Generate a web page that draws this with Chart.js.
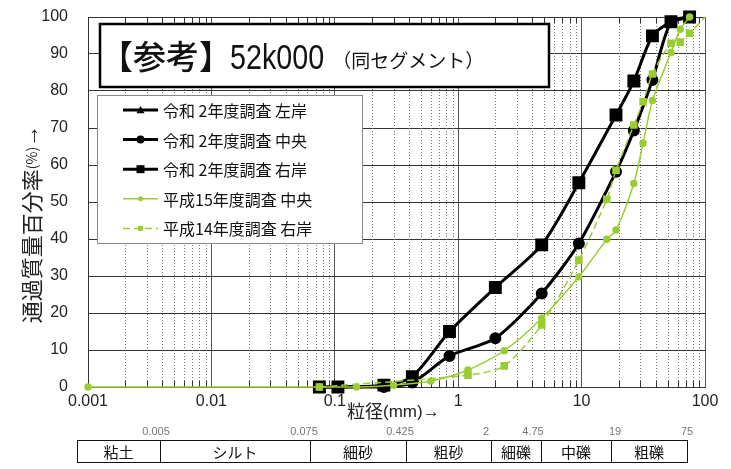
<!DOCTYPE html>
<html lang="ja">
<head>
<meta charset="utf-8">
<title>粒度分布 52k000</title>
<script src="https://cdn.jsdelivr.net/npm/chart.js@4.4.1/dist/chart.umd.min.js"></script>
<style>
  html, body { margin: 0; padding: 0; background: #fff; }
  #wrap { position: relative; width: 731px; height: 469px; }
</style>
</head>
<body>
<div id="wrap"><canvas id="gradation"></canvas></div>
<script>
// 令和2年度調査 ふるい目 (mm) と通過質量百分率 (%)
const sieveR2 = [0.075, 0.106, 0.25, 0.425, 0.85, 2, 4.75, 9.5, 19, 26.5, 37.5, 53, 75];
const passR2Left = [];   // 左岸: 凡例のみ
const passR2Center = [0, 0, 0, 1.2, 8.4, 13.2, 25.3, 38.8, 58.2, 69.3, 83.0, 98.7, 100];
const passR2Right = [0, 0, 0.5, 2.8, 15.0, 26.9, 38.4, 55.2, 73.5, 82.7, 94.9, 98.7, 100];

// 平成15年度調査 中央
const sieveH15 = [0.001, 0.075, 0.15, 0.3, 0.6, 1.2, 2.36, 4.75, 9.5, 16, 19, 26.5, 31.5, 37.5, 53, 63, 75];
const passH15Center = [0, 0, 0, 0.5, 1.6, 4.6, 9.8, 18.6, 29.8, 39.9, 42.4, 55.0, 65.9, 77.4, 90.4, 96.7, 100];

// 平成14年度調査 右岸
const sieveH14 = [0.075, 1.2, 2.36, 4.75, 9.5, 16, 19, 26.5, 31.5, 37.5, 53, 63, 75, 100];
const passH14Right = [0, 3.2, 5.7, 16.8, 34.3, 50.7, 58.6, 70.8, 77.1, 84.6, 92.9, 93.2, 95.6, 100];

const xTickLabels = ['0.001', '0.01', '0.1', '1', '10', '100'];
const soilClasses = ['粘土', 'シルト', '細砂', '粗砂', '細礫', '中礫', '粗礫'];
const soilBounds = ['0.005', '0.075', '0.425', '2', '4.75', '19', '75'];

const GREEN = '#9acd32';
const JP = "'Noto Sans CJK JP', sans-serif";
const NUM = "'Liberation Sans', 'Noto Sans CJK JP', sans-serif";

function toPoints(xs, ys) {
    return ys.map((y, i) => ({ x: xs[i], y: y }));
}

function isDecade(v) {
    const l = Math.log10(v);
    return Math.abs(l - Math.round(l)) < 1e-6;
}

// simple marker drawing for the hand-made legend
function drawMarker(ctx, style, x, y, r, color) {
    ctx.save();
    ctx.fillStyle = color;
    ctx.beginPath();
    if (style === 'circle') {
        ctx.arc(x, y, r, 0, Math.PI * 2);
    } else if (style === 'rect') {
        ctx.rect(x - r, y - r, r * 2, r * 2);
    } else if (style === 'triangle') {
        ctx.moveTo(x, y - r);
        ctx.lineTo(x + r, y + r * 0.8);
        ctx.lineTo(x - r, y + r * 0.8);
        ctx.closePath();
    }
    ctx.fill();
    ctx.restore();
}

const decorPlugin = {
    id: 'decor',
    beforeDatasetsDraw(chart) {
        const ctx = chart.ctx;
        const xs = chart.scales.x;
        const area = chart.chartArea;
        ctx.save();
        xs.ticks.forEach(t => {
            if (isDecade(t.value)) return;
            const px = Math.round(xs.getPixelForValue(t.value)) + 0.5;
            ctx.strokeStyle = '#777';
            ctx.lineWidth = 1;
            ctx.setLineDash([1, 2]);
            ctx.beginPath();
            ctx.moveTo(px, area.top);
            ctx.lineTo(px, area.bottom);
            ctx.stroke();
            // short inner tick marks top and bottom
            ctx.setLineDash([]);
            ctx.strokeStyle = '#333';
            ctx.beginPath();
            ctx.moveTo(px, area.bottom);
            ctx.lineTo(px, area.bottom - 6);
            ctx.moveTo(px, area.top);
            ctx.lineTo(px, area.top + 6);
            ctx.stroke();
        });
        ctx.restore();
    },
    afterDraw(chart) {
        const ctx = chart.ctx;
        ctx.save();

        // title box
        ctx.fillStyle = '#fff';
        ctx.fillRect(100, 24, 449, 63);
        ctx.strokeStyle = '#000';
        ctx.lineWidth = 2.5;
        ctx.strokeRect(100, 24, 449, 63);
        ctx.fillStyle = '#111';
        ctx.textBaseline = 'alphabetic';
        ctx.textAlign = 'left';
        ctx.font = '500 33px ' + JP;
        ctx.fillText('【参考】', 100, 69);
        let tx = 100 + ctx.measureText('【参考】').width - 2;
        ctx.save();
        ctx.translate(tx, 69);
        ctx.scale(0.82, 1);
        ctx.font = '35px ' + NUM;
        ctx.fillText('52k000', 0, 0);
        tx += ctx.measureText('52k000').width * 0.82 + 8;
        ctx.restore();
        ctx.font = '19px ' + JP;
        ctx.fillText('（同セグメント）', tx, 68);

        // legend box
        ctx.fillStyle = '#fff';
        ctx.fillRect(97, 95, 265, 148);
        ctx.strokeStyle = '#888';
        ctx.lineWidth = 1;
        ctx.strokeRect(97.5, 95.5, 265, 148);
        chart.data.datasets.forEach((ds, i) => {
            const y = 110 + i * 29.6;
            ctx.save();
            ctx.strokeStyle = ds.borderColor;
            ctx.lineWidth = ds.borderWidth;
            ctx.setLineDash(ds.borderDash || []);
            ctx.beginPath();
            ctx.moveTo(123, y);
            ctx.lineTo(158, y);
            ctx.stroke();
            ctx.restore();
            const big = ds.borderColor === '#000';
            drawMarker(ctx, ds.pointStyle, 140.5, y, big ? 4 : 2.5, ds.borderColor);
            ctx.fillStyle = '#111';
            ctx.font = '16px ' + JP;
            ctx.textBaseline = 'middle';
            ctx.fillText(ds.label, 163, y + 1);
        });

        // y axis title (rotated)
        ctx.save();
        ctx.translate(32, 224);
        ctx.rotate(-Math.PI / 2);
        ctx.fillStyle = '#222';
        ctx.textBaseline = 'middle';
        const parts = [['通過質量百分率', '22px ' + JP], ['(%)', '14px ' + JP], ['→', '22px ' + NUM]];
        let total = 0;
        parts.forEach(p => { ctx.font = p[1]; total += ctx.measureText(p[0]).width; });
        let px = -total / 2;
        parts.forEach(p => {
            ctx.font = p[1];
            ctx.fillText(p[0], px, 0);
            px += ctx.measureText(p[0]).width;
        });
        ctx.restore();

        // x axis title
        ctx.fillStyle = '#222';
        ctx.textBaseline = 'middle';
        ctx.textAlign = 'left';
        ctx.font = '18px ' + JP;
        ctx.fillText('粒径', 347, 411);
        let xx = 347 + ctx.measureText('粒径').width;
        ctx.font = '17px ' + NUM;
        ctx.fillText('(mm)→', xx, 412);

        // soil classification table
        const edges = [77, 160, 310, 406, 491, 541, 611, 687];
        const labelX = [156, 304, 400, 486, 533, 615, 687];
        ctx.strokeStyle = '#111';
        ctx.lineWidth = 1;
        ctx.strokeRect(edges[0] + 0.5, 440.5, edges[7] - edges[0], 22);
        ctx.font = '15px ' + JP;
        ctx.textAlign = 'center';
        soilClasses.forEach((name, i) => {
            if (i > 0) {
                ctx.beginPath();
                ctx.moveTo(edges[i] + 0.5, 440.5);
                ctx.lineTo(edges[i] + 0.5, 462.5);
                ctx.stroke();
            }
            ctx.fillStyle = '#111';
            ctx.fillText(name, (edges[i] + edges[i + 1]) / 2, 452);
        });
        ctx.font = '11px ' + NUM;
        ctx.fillStyle = '#777';
        soilBounds.forEach((s, i) => ctx.fillText(s, labelX[i], 432));

        ctx.restore();
    }
};

function initGradationChart() {
    const ctx = document.getElementById('gradation').getContext('2d');
    new Chart(ctx, {
        type: 'scatter',
        data: {
            datasets: [{
                label: '令和 2年度調査 左岸',
                data: toPoints(sieveR2, passR2Left),
                borderColor: '#000',
                backgroundColor: '#000',
                borderWidth: 3,
                pointStyle: 'triangle',
                pointRadius: 6,
                order: 1
            }, {
                label: '令和 2年度調査 中央',
                data: toPoints(sieveR2, passR2Center),
                borderColor: '#000',
                backgroundColor: '#000',
                borderWidth: 3,
                pointStyle: 'circle',
                pointRadius: 4.5,
                order: 1
            }, {
                label: '令和 2年度調査 右岸',
                data: toPoints(sieveR2, passR2Right),
                borderColor: '#000',
                backgroundColor: '#000',
                borderWidth: 3,
                pointStyle: 'rect',
                pointRadius: 7,
                order: 1
            }, {
                label: '平成15年度調査 中央',
                data: toPoints(sieveH15, passH15Center),
                borderColor: GREEN,
                backgroundColor: GREEN,
                borderWidth: 1.5,
                pointStyle: 'circle',
                pointRadius: 3,
                order: 0
            }, {
                label: '平成14年度調査 右岸',
                data: toPoints(sieveH14, passH14Right),
                borderColor: GREEN,
                backgroundColor: GREEN,
                borderWidth: 1.5,
                borderDash: [7, 4],
                pointStyle: 'rect',
                pointRadius: c => (c.raw && c.raw.x >= 100 ? 0 : 4.3),
                order: 0
            }]
        },
        options: {
            responsive: true,
            maintainAspectRatio: false,
            animation: false,
            showLine: true,
            clip: false,
            elements: { line: { tension: 0.25 } },
            layout: { padding: { top: 17, right: 26, left: 0, bottom: 0 } },
            plugins: {
                legend: { display: false },
                tooltip: { enabled: false }
            },
            scales: {
                x: {
                    type: 'logarithmic',
                    min: 0.001,
                    max: 100,
                    afterBuildTicks: scale => {
                        const ticks = [];
                        for (let e = -3; e <= 2; e++) {
                            for (let m = 1; m <= 9; m++) {
                                const v = +(m * Math.pow(10, e)).toPrecision(3);
                                if (v <= 100) ticks.push({ value: v });
                            }
                        }
                        scale.ticks = ticks;
                    },
                    afterFit: scale => { scale.height = 82; },
                    grid: {
                        color: c => (c.tick && isDecade(c.tick.value) ? '#555' : 'rgba(0,0,0,0)'),
                        lineWidth: 1,
                        drawTicks: false
                    },
                    border: { color: '#333', width: 1 },
                    ticks: {
                        autoSkip: false,
                        maxRotation: 0,
                        padding: 5,
                        color: '#222',
                        font: { family: NUM, size: 16 },
                        callback: v => (isDecade(v) ? xTickLabels[Math.round(Math.log10(v)) + 3] : '')
                    }
                },
                y: {
                    min: 0,
                    max: 100,
                    afterFit: scale => {
                        scale.width = 88;
                        scale.paddingTop = 0;
                        scale.paddingBottom = 0;
                    },
                    grid: { color: '#333', lineWidth: 1, drawTicks: false },
                    border: { color: '#333', width: 1 },
                    ticks: {
                        stepSize: 10,
                        padding: 20,
                        color: '#222',
                        font: { family: NUM, size: 16 }
                    }
                }
            }
        },
        plugins: [decorPlugin]
    });
}

initGradationChart();
</script>
</body>
</html>
